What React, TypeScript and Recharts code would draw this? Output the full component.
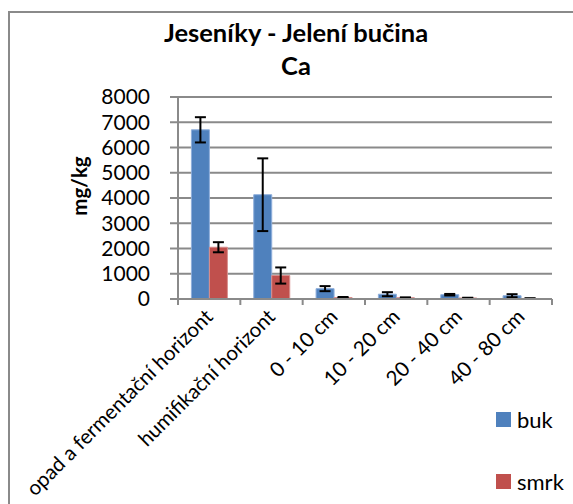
import { BarChart, Bar, XAxis, YAxis, CartesianGrid, ErrorBar } from 'recharts';

// categories (soil horizons / depths)
const categories = [
  'opad a fermentační horizont',
  'humifikační horizont',
  '0 - 10 cm',
  '10 - 20 cm',
  '20 - 40 cm',
  '40 - 80 cm',
];

// Ca content, mg/kg
const buk = [6700, 4130, 410, 190, 170, 130];
const bukErr = [500, 1440, 100, 80, 30, 60];
const smrk = [2050, 930, 60, 50, 40, 20];
const smrkErr = [200, 320, 20, 15, 10, 10];

const yTicks = [0, 1000, 2000, 3000, 4000, 5000, 6000, 7000, 8000];

const series = [
  { label: 'buk', color: '#4f81bd' },
  { label: 'smrk', color: '#c0504d' },
];

const data = categories.map((name, i) => ({
  name,
  buk: buk[i],
  bukErr: bukErr[i],
  smrk: smrk[i],
  smrkErr: smrkErr[i],
}));

const W = 573;
const H = 504;
const PLOT_LEFT = 178;
const PLOT_RIGHT = 21;
const HALF_BAND = (W - PLOT_LEFT - PLOT_RIGHT) / categories.length / 2;
const FONT = 'Lato, "Open Sans", sans-serif';
const GRID = '#8a8a8a';

const CategoryTick = ({ x, y, payload, index }: any) => {
  const last = index === categories.length - 1;
  return (
    <g>
      <line x1={x - HALF_BAND} y1={y} x2={x - HALF_BAND} y2={y + 6} stroke={GRID} strokeWidth={2} />
      {last && <line x1={x + HALF_BAND} y1={y} x2={x + HALF_BAND} y2={y + 6} stroke={GRID} strokeWidth={2} />}
      <text
        transform={`translate(${x + 5},${y + 19}) rotate(-45)`}
        textAnchor="end"
        fontSize={20.5}
        fontFamily={FONT}
        fill="#000"
      >
        {payload.value}
      </text>
    </g>
  );
};

export default function App() {
  return (
    <div style={{ position: 'absolute', left: 0, top: 0, width: W, height: H, overflow: 'hidden', background: '#fff', fontFamily: FONT }}>
      {/* chart frame */}
      <div style={{ position: 'absolute', left: 8, top: 11, width: W, height: H, borderLeft: `2px solid ${GRID}`, borderTop: `2px solid ${GRID}` }} />

      <div style={{ position: 'absolute', left: 96, top: 16, width: 400, textAlign: 'center', fontWeight: 700, fontSize: 25.5, lineHeight: '33px', color: '#000' }}>
        <div>Jeseníky - Jelení bučina</div>
        <div>Ca</div>
      </div>

      <div style={{ position: 'absolute', left: 79, top: 186, transform: 'translate(-50%, -50%) rotate(-90deg)', fontWeight: 700, fontSize: 20.5, whiteSpace: 'nowrap', color: '#000' }}>
        mg/kg
      </div>

      <div style={{ position: 'absolute', left: 0, top: 0 }}>
        <BarChart
          width={W}
          height={H}
          data={data}
          margin={{ top: 97, right: PLOT_RIGHT, bottom: 0, left: 0 }}
          barCategoryGap="21.5%"
          barGap={0}
        >
          <CartesianGrid vertical={false} stroke={GRID} strokeWidth={2} />
          <XAxis
            dataKey="name"
            height={205}
            interval={0}
            axisLine={{ stroke: GRID, strokeWidth: 2 }}
            tickLine={false}
            tickSize={0}
            tickMargin={0}
            tick={<CategoryTick />}
          />
          <YAxis
            width={PLOT_LEFT}
            domain={[0, 8000]}
            ticks={yTicks}
            interval={0}
            axisLine={{ stroke: GRID, strokeWidth: 2 }}
            tickLine={{ stroke: GRID, strokeWidth: 2 }}
            tickSize={8}
            tickMargin={20}
            tick={{ fill: '#000', fontSize: 21, fontFamily: FONT }}
          />
          <Bar dataKey="buk" fill="#4f81bd" stroke="#8eaedb" strokeWidth={1} isAnimationActive={false}>
            <ErrorBar dataKey="bukErr" width={5.5} stroke="#000" strokeWidth={2} isAnimationActive={false} />
          </Bar>
          <Bar dataKey="smrk" fill="#c0504d" stroke="#d88e8c" strokeWidth={1} isAnimationActive={false}>
            <ErrorBar dataKey="smrkErr" width={5.5} stroke="#000" strokeWidth={2} isAnimationActive={false} />
          </Bar>
        </BarChart>
      </div>

      {/* legend */}
      <div style={{ position: 'absolute', left: 496, top: 406, fontSize: 22, color: '#000' }}>
        {series.map((s, i) => (
          <div key={s.label} style={{ display: 'flex', alignItems: 'center', height: 26, marginBottom: i === 0 ? 36 : 0 }}>
            <span style={{ width: 15, height: 15, background: s.color, display: 'inline-block', marginRight: 6 }} />
            <span>{s.label}</span>
          </div>
        ))}
      </div>
    </div>
  );
}
